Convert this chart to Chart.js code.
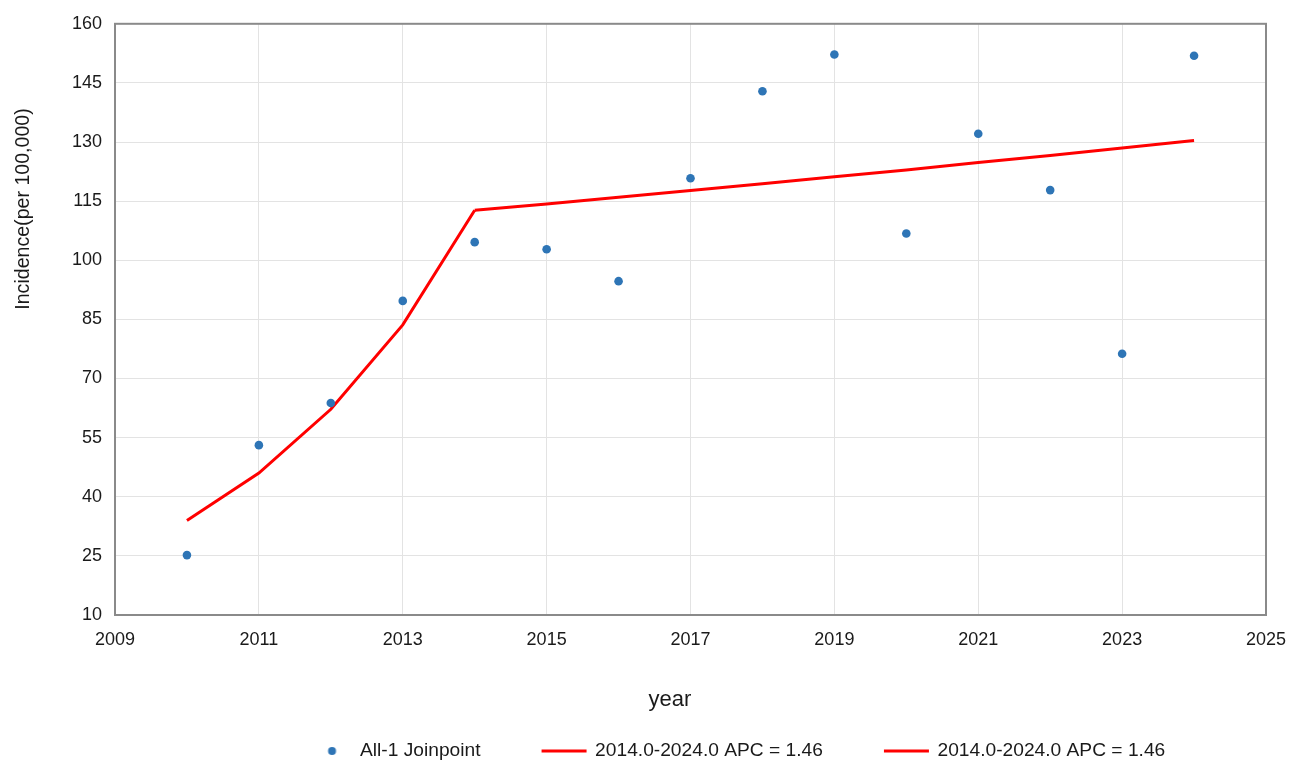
<!DOCTYPE html>
<html>
<head>
<meta charset="utf-8">
<script src="https://cdn.jsdelivr.net/npm/chart.js@4/dist/chart.umd.min.js"></script>
<style>
  html, body { margin: 0; padding: 0; background: #ffffff; }
  #wrap { width: 1289px; height: 762px; }
</style>
</head>
<body>
<div id="wrap"><canvas id="c" width="1289" height="762"></canvas></div>
<script>
// ---- data ----
const obsYears = [2010, 2011, 2012, 2013, 2014, 2015, 2016, 2017, 2018, 2019, 2020, 2021, 2022, 2023, 2024];
const obsValues = [25.2, 53.1, 63.8, 89.7, 104.6, 102.8, 94.7, 120.8, 142.9, 152.2, 106.8, 132.1, 117.8, 76.3, 151.9];
const seg1Years = [2010, 2011, 2012, 2013, 2014];
const seg1Values = [34.0, 46.0, 62.2, 83.6, 112.7];
const seg2Years = [2014, 2015, 2016, 2017, 2018, 2019, 2020, 2021, 2022, 2023, 2024];
const seg2Values = [112.7, 114.3, 116.0, 117.7, 119.4, 121.2, 122.9, 124.8, 126.6, 128.5, 130.4];
const seriesLabels = ['All-1 Joinpoint', '2014.0-2024.0 APC = 1.46', '2014.0-2024.0 APC = 1.46'];
const xTitle = 'year';
const yTitle = 'Incidence(per 100,000)';
const xMin = 2009, xMax = 2025, xStep = 2;
const yMin = 10, yMax = 160, yStep = 15;

// ---- styles ----
const FONT = "'Liberation Sans', Arial, sans-serif";
const TEXT = '#1a1a1a';
const DOT = '#2e75b6';
const RED = '#ff0000';
const LEG_FS = 19.2, LEG_PAD = 6, LEG_W = 99;

function makeDotIcon() {
  const c = document.createElement('canvas');
  c.width = LEG_W; c.height = 12;
  const g = c.getContext('2d');
  g.fillStyle = DOT;
  g.beginPath(); g.arc(LEG_W - 18.4, 6, 4, 0, Math.PI * 2); g.fill();
  return c;
}
function makeLineIcon() {
  const c = document.createElement('canvas');
  c.width = LEG_W + 4; c.height = 4;
  const g = c.getContext('2d');
  g.fillStyle = RED;
  g.fillRect(LEG_W + 4 - 46, 0.5, 45, 3);
  return c;
}
const dotIcon = makeDotIcon();
const lineIcon = makeLineIcon();

const toXY = (xs, ys) => xs.map((x, i) => ({ x: x, y: ys[i] }));

const frame = {
  id: 'frame',
  beforeDatasetsDraw(chart) {
    const a = chart.chartArea, ctx = chart.ctx;
    ctx.save();
    ctx.strokeStyle = '#8a8a8a';
    ctx.lineWidth = 2;
    ctx.strokeRect(a.left, a.top, a.right - a.left, a.bottom - a.top);
    ctx.restore();
  }
};

// axis titles placed where the reference puts them
const axisTitles = {
  id: 'axisTitles',
  afterDraw(chart) {
    const ctx = chart.ctx;
    ctx.save();
    ctx.fillStyle = TEXT;
    ctx.textAlign = 'center';
    ctx.textBaseline = 'middle';
    ctx.font = '22px ' + FONT;
    ctx.fillText(xTitle, 670, 700);
    ctx.translate(24, 209);
    ctx.rotate(-Math.PI / 2);
    ctx.font = '19.6px ' + FONT;
    ctx.fillText(yTitle, 0, 0);
    ctx.restore();
  }
};

const legendPlace = {
  id: 'legendPlace',
  afterLayout(chart) {
    const lg = chart.legend;
    if (!lg || !lg.lineWidths) return;
    const curStart = (lg.left + LEG_PAD + lg.right - lg.lineWidths[0]) / 2;
    const dx = (360 - LEG_FS / 2 - LEG_W) - curStart;
    const curCY = lg.top + LEG_PAD + LEG_FS / 2;
    const dy = 751 - curCY;
    lg.left += dx; lg.right += dx; lg.top += dy; lg.bottom += dy;
  }
};

new Chart(document.getElementById('c'), {
  type: 'scatter',
  data: {
    datasets: [
      {
        label: seriesLabels[0],
        data: toXY(obsYears, obsValues),
        backgroundColor: DOT,
        borderColor: DOT,
        pointRadius: 4.3,
        borderWidth: 0,
        order: 0
      },
      {
        type: 'line',
        label: seriesLabels[1],
        data: toXY(seg1Years, seg1Values),
        borderColor: RED,
        backgroundColor: RED,
        borderWidth: 3,
        pointRadius: 0,
        tension: 0,
        fill: false,
        order: 1
      },
      {
        type: 'line',
        label: seriesLabels[2],
        data: toXY(seg2Years, seg2Values),
        borderColor: RED,
        backgroundColor: RED,
        borderWidth: 3,
        pointRadius: 0,
        tension: 0,
        fill: false,
        order: 1
      }
    ]
  },
  options: {
    responsive: false,
    animation: false,
    layout: { padding: { top: 22, right: 0, bottom: 0, left: 0 } },
    plugins: {
      tooltip: { enabled: false },
      legend: {
        position: 'bottom',
        labels: {
          color: TEXT,
          font: { family: FONT, size: LEG_FS },
          padding: LEG_PAD,
          usePointStyle: true,
          pointStyleWidth: LEG_W,
          generateLabels(chart) {
            return chart.data.datasets.map((ds, i) => ({
              text: ds.label,
              pointStyle: i === 0 ? dotIcon : lineIcon,
              fillStyle: ds.backgroundColor,
              strokeStyle: ds.borderColor,
              lineWidth: 0,
              hidden: false,
              datasetIndex: i,
              fontColor: TEXT
            }));
          }
        }
      }
    },
    scales: {
      x: {
        type: 'linear',
        min: xMin, max: xMax,
        afterFit(s) {
          s.height = 762 - 615 - (LEG_FS + LEG_PAD + 10);
          s.paddingRight = 23;
          s.paddingLeft = 20;
        },
        ticks: {
          stepSize: xStep,
          color: TEXT,
          font: { family: FONT, size: 18 },
          padding: 14,
          maxRotation: 0,
          callback: v => String(v)
        },
        grid: { color: '#e3e3e3', lineWidth: 1, drawTicks: false },
        border: { display: false },
        title: { display: false }
      },
      y: {
        type: 'linear',
        min: yMin, max: yMax,
        afterFit(s) { s.width = 115; },
        ticks: {
          stepSize: yStep,
          color: TEXT,
          font: { family: FONT, size: 18 },
          padding: 13,
          callback: v => String(v)
        },
        grid: { color: '#e3e3e3', lineWidth: 1, drawTicks: false },
        border: { display: false },
        title: { display: false }
      }
    }
  },
  plugins: [frame, axisTitles, legendPlace]
});
</script>
</body>
</html>
